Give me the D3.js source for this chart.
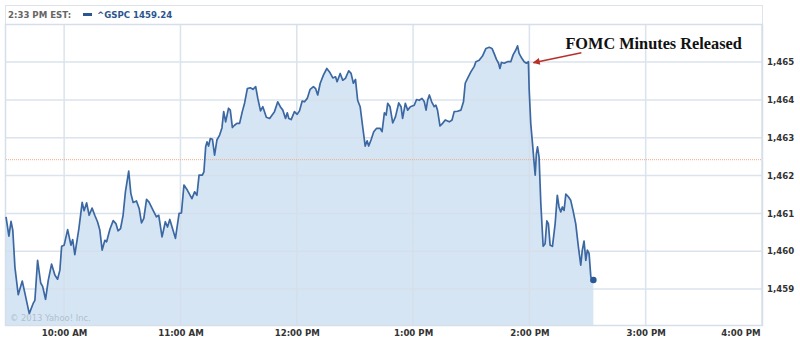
<!DOCTYPE html>
<html>
<head>
<meta charset="utf-8">
<script src="https://cdn.jsdelivr.net/npm/d3@7"></script>
<style>
  body { margin: 0; background: #fff; }
  svg { display: block; }
</style>
</head>
<body>
<svg class="chart"></svg>
<script>
// minutes after the 9:30 open, and the index level
let minutes = [
  0,1.5,2.6,3.5,4.6,6.3,8.4,9.8,12.0,14.1,
  14.9,16.3,17.9,18.9,20.4,21.8,23.5,25.2,26.6,27.8,
  28.7,30.0,31.8,33.5,34.4,35.5,37.6,39.3,40.3,41.6,
  42.9,44.4,45.8,47.2,48.4,49.6,51.0,51.9,53.6,55.3,
  56.7,57.8,59.1,60.4,61.6,63.3,64.4,65.6,67.3,68.7,
  69.9,71.1,72.5,73.8,
  75.9,77.6,78.8,80.5,82.2,83.3,84.5,85.9,87.4,89.3,
  90.5,91.8,93.6,95.9,97.3,98.5,99.6,101.3,102.1,103.0,
  103.7,104.5,105.4,106.5,107.6,108.8,110.2,111.4,112.3,113.3,
  114.8,115.7,116.8,117.9,119.1,120.5,121.9,123.1,124.5,126.0,
  127.4,128.8,129.9,131.3,132.5,134.3,136.0,138.5,140.2,141.5,
  142.8,144.2,145.1,145.9,147.1,148.8,150.2,151.4,
  152.8,154.0,155.4,156.9,158.6,159.7,160.8,162.1,163.8,165.5,
  166.9,168.6,170.0,170.8,172.4,173.7,175.1,176.8,178.0,179.2,
  180.3,181.4,182.7,184.0,185.3,186.3,187.1,188.3,189.7,191.2,
  193.0,194.0,195.2,196.1,196.9,198.1,199.5,200.9,202.6,203.8,
  204.6,206.0,207.2,208.6,210.6,211.8,213.2,214.6,215.8,216.7,
  217.5,218.4,219.6,220.9,221.8,222.6,223.9,225.2,226.6,228.7,
  230.1,231.2,232.9,234.7,236.0,236.9,238.1,239.8,241.5,242.4,
  244.1,245.8,247.6,249.3,250.7,251.8,253.0,254.1,254.8,255.6,
  257.0,258.7,260.4,261.6,263.0,263.9,264.7,266.1,267.3,268.5,
  269.5,269.9,270.7,271.6,272.4,273.0,273.6,274.2,275.0,275.9,
  277.1,278.1,279.0,279.8,280.7,281.9,283.3,284.4,285.3,286.2,
  287.0,287.9,288.8,290.1,291.3,292.5,293.9,295.3,296.5,297.3,
  298.2,299.1,299.9,300.8,301.7,303
];
let prices = [
  1460.91,1460.40,1460.79,1460.56,1459.58,1458.85,1459.21,1458.88,1458.35,1458.63,
  1458.70,1459.76,1459.16,1459.07,1458.73,1459.23,1459.66,1459.37,1459.26,1459.50,
  1460.13,1460.16,1460.57,1460.16,1460.31,1459.91,1460.60,1461.29,1461.07,1461.28,
  1460.95,1461.14,1460.95,1460.78,1460.56,1460.03,1460.29,1460.25,1460.58,1460.81,
  1460.73,1460.54,1460.60,1460.95,1461.57,1462.12,1461.53,1461.29,1461.33,1461.13,
  1460.75,1460.87,1461.37,1461.30,
  1461.08,1460.91,1460.95,1460.38,1460.78,1460.64,1460.84,1460.60,1460.34,1461.00,
  1461.01,1461.75,1461.61,1461.39,1461.57,1461.48,1462.01,1462.01,1462.10,1462.76,
  1462.89,1462.78,1462.98,1462.96,1462.54,1462.94,1463.07,1463.26,1463.69,1463.42,
  1463.78,1463.73,1463.27,1463.33,1463.38,1463.38,1463.69,1463.92,1464.30,1464.32,
  1464.28,1464.35,1464.04,1463.71,1463.82,1463.54,1463.51,1463.69,1463.95,1463.82,
  1463.73,1463.51,1463.66,1463.51,1463.48,1463.69,1463.62,1463.71,
  1463.97,1463.95,1464.04,1464.28,1464.35,1464.30,1464.13,1464.44,1464.66,1464.83,
  1464.74,1464.58,1464.61,1464.48,1464.70,1464.52,1464.57,1464.77,1464.70,1464.44,
  1464.54,1463.99,1463.82,1463.29,1462.78,1462.92,1462.78,1462.94,1463.16,1463.25,
  1463.25,1463.16,1463.66,1463.60,1463.91,1463.82,1463.39,1463.55,1463.92,1463.82,
  1463.51,1463.91,1463.73,1463.82,1463.86,1464.01,1463.99,1464.04,1463.95,1463.73,
  1463.99,1464.13,1463.95,1463.82,1463.86,1463.73,1463.31,1463.38,1463.47,1463.42,
  1463.47,1463.69,1463.70,1463.73,1463.95,1464.44,1464.57,1464.74,1464.88,1465.01,
  1465.05,1465.16,1465.36,1465.39,1465.36,1465.23,1465.07,1464.97,1464.83,1464.99,
  1464.97,1465.01,1465.01,1465.19,1465.32,1465.43,1465.23,1465.10,1465.01,1464.97,
  1465.01,1464.26,1463.38,1462.85,1462.36,1462.01,1462.58,1462.76,1462.49,1461.26,
  1460.13,1460.20,1460.80,1460.73,1460.16,1460.13,1460.73,1461.48,1461.17,1461.04,
  1461.17,1461.08,1461.51,1461.44,1461.35,1461.08,1460.73,1460.11,1459.63,1460.03,
  1460.27,1459.76,1460.03,1459.94,1459.32,1459.24
];
let hourTicks = [10, 11, 12, 13, 14, 15, 16];
let xTickLabels = ["10:00 AM", "11:00 AM", "12:00 PM", "1:00 PM", "2:00 PM", "3:00 PM", "4:00 PM"];
let yTicks = [1459, 1460, 1461, 1462, 1463, 1464, 1465];
let prevClose = 1462.42;
let headerTime = "2:33 PM EST:";
let symbol = "^GSPC";
let lastPrice = "1459.24";
let noteText = "FOMC Minutes Released";
let noteMinute = 269.5; // the tick just before the drop
let credit = "\u00a9 2013 Yahoo! Inc.";

let w = 800, h = 342;
let pLeft = 6, pRight = 762, pTop = 25, pBottom = 325;

let openTime = new Date(2013, 0, 3, 9, 30);
let toDate = m => new Date(openTime.getTime() + m * 60000);
let data = minutes.map((m, i) => ({ date: toDate(m), price: prices[i] }));

var x = d3.scaleTime()
          .domain([openTime, new Date(2013, 0, 3, 16, 0)])
          .range([pLeft, pRight]);

var y = d3.scaleLinear()
          .domain([1458.05, 1465.98])
          .range([pBottom, pTop]);

var svg = d3.select(".chart")
            .attr("width", w)
            .attr("height", h)
            .style("font-family", "'DejaVu Sans', sans-serif");

// header strip
svg.append("rect")
   .attr("x", pLeft - 0.5).attr("y", 5.5)
   .attr("width", pRight - pLeft + 1).attr("height", 19)
   .attr("fill", "#fff").attr("stroke", "#dce3eb");

svg.append("text")
   .attr("x", 8).attr("y", 18)
   .attr("font-size", "8.6px").attr("font-weight", "bold")
   .attr("fill", "#666")
   .text(headerTime);
svg.append("rect")
   .attr("x", 83).attr("y", 13).attr("width", 9).attr("height", 3)
   .attr("fill", "#2a5590");
svg.append("text")
   .attr("x", 97).attr("y", 18)
   .attr("font-size", "8.6px").attr("font-weight", "bold")
   .attr("fill", "#2a5590")
   .text(symbol + " " + lastPrice);

// plot box
svg.append("rect")
   .attr("x", pLeft).attr("y", pTop)
   .attr("width", pRight - pLeft).attr("height", pBottom - pTop)
   .attr("fill", "#fff");

var area = d3.area()
             .x(d => x(d.date))
             .y0(pBottom)
             .y1(d => y(d.price));

var line = d3.line()
             .x(d => x(d.date))
             .y(d => y(d.price));

svg.append("path")
   .datum(data)
   .attr("d", area)
   .attr("fill", "#d6e5f4");

// grid
var grid = svg.append("g").attr("stroke", "#d5dfea").attr("stroke-width", 1.5).attr("opacity", 0.85);
grid.selectAll(".vg")
    .data(hourTicks)
    .enter().append("line")
    .attr("x1", d => x(new Date(2013, 0, 3, d, 0)))
    .attr("x2", d => x(new Date(2013, 0, 3, d, 0)))
    .attr("y1", pTop).attr("y2", pBottom);
grid.selectAll(".hg")
    .data(yTicks)
    .enter().append("line")
    .attr("x1", pLeft).attr("x2", pRight)
    .attr("y1", d => y(d)).attr("y2", d => y(d));
svg.append("rect")
   .attr("x", pLeft - 0.5).attr("y", pTop - 0.5)
   .attr("width", pRight - pLeft + 1).attr("height", pBottom - pTop + 1)
   .attr("fill", "none").attr("stroke", "#d5dfea").attr("stroke-width", 1.5);

// previous close
svg.append("line")
   .attr("x1", pLeft).attr("x2", pRight)
   .attr("y1", y(prevClose)).attr("y2", y(prevClose))
   .attr("stroke", "#f4ab82").attr("stroke-width", 1)
   .attr("stroke-dasharray", "1,1");

svg.append("path")
   .datum(data)
   .attr("d", line)
   .attr("fill", "none")
   .attr("stroke", "#3b68a2")
   .attr("stroke-width", 1.7)
   .attr("stroke-linejoin", "round");

var last = data[data.length - 1];
svg.append("circle")
   .attr("cx", x(last.date)).attr("cy", y(last.price))
   .attr("r", 3.3)
   .attr("fill", "#2a5a94");

svg.append("text")
   .attr("x", 10).attr("y", 321)
   .attr("font-size", "8.4px")
   .attr("fill", "#b0bfce")
   .text(credit);

// axes
var xAxis = svg.append("g")
   .attr("transform", "translate(0," + pBottom + ")")
   .call(d3.axisBottom(x)
           .tickValues(hourTicks.map(hr => new Date(2013, 0, 3, hr, 0)))
           .tickFormat((d, i) => xTickLabels[i])
           .tickSize(0).tickPadding(4.5));
xAxis.select(".domain").remove();
xAxis.selectAll("text")
     .attr("font-size", "8.6px").attr("font-weight", "bold")
     .attr("font-family", "'DejaVu Sans', sans-serif")
     .attr("fill", "#333");
xAxis.selectAll(".tick:last-of-type text")
     .attr("text-anchor", "end").attr("dx", -2);

var yAxis = svg.append("g")
   .attr("transform", "translate(" + pRight + ",0)")
   .call(d3.axisRight(y)
           .tickValues(yTicks)
           .tickFormat(d3.format(","))
           .tickSize(0).tickPadding(5));
yAxis.select(".domain").remove();
yAxis.selectAll("text")
     .attr("font-size", "8.6px").attr("font-weight", "bold")
     .attr("font-family", "'DejaVu Sans', sans-serif")
     .attr("fill", "#333");

// annotation
var notePoint = data[minutes.indexOf(noteMinute)];
var tipX = x(notePoint.date) + 5, tipY = y(notePoint.price) + 1;

svg.append("defs").append("marker")
   .attr("id", "head")
   .attr("viewBox", "0 0 10 10")
   .attr("refX", 9).attr("refY", 5)
   .attr("markerWidth", 9).attr("markerHeight", 7)
   .attr("markerUnits", "userSpaceOnUse")
   .attr("orient", "auto")
   .append("path")
   .attr("d", "M0,0L10,5L0,10z")
   .attr("fill", "#b8302a");

svg.append("line")
   .attr("x1", tipX + 48).attr("y1", tipY - 10)
   .attr("x2", tipX).attr("y2", tipY)
   .attr("stroke", "#b8302a").attr("stroke-width", 1.6)
   .attr("marker-end", "url(#head)");

svg.append("text")
   .attr("x", tipX + 32).attr("y", tipY - 14)
   .attr("font-family", "'Liberation Serif', serif")
   .attr("font-weight", "bold")
   .attr("font-size", "16.3px")
   .attr("fill", "#111")
   .text(noteText);
</script>
</body>
</html>
